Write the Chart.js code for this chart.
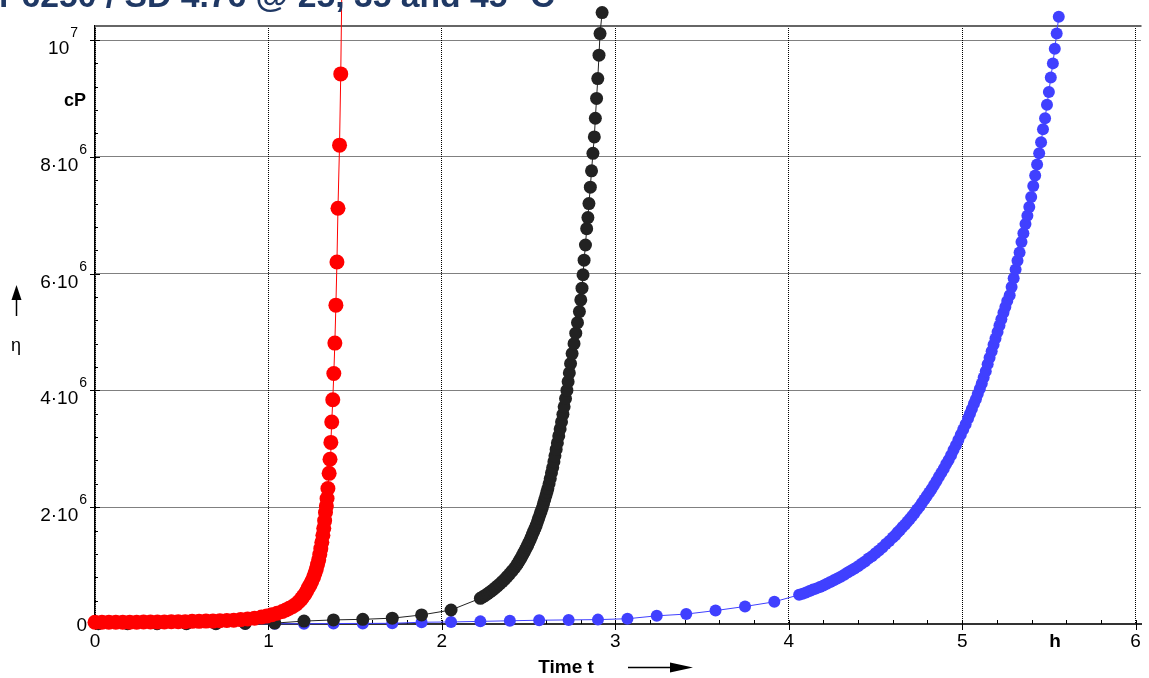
<!DOCTYPE html>
<html>
<head>
<meta charset="utf-8">
<script src="https://cdn.jsdelivr.net/npm/chart.js@4"></script>
<style>
  html, body { margin: 0; padding: 0; background: #fff; }
  #chart { display: block; }
</style>
</head>
<body>
<canvas id="chart" width="1149" height="678"></canvas>
<script>
// time t in h, viscosity eta in 10^6 cP

// 45 °C (red)
const redTime = [0, 0.04, 0.08, 0.12, 0.16, 0.20, 0.24, 0.28, 0.32, 0.36, 0.40, 0.44, 0.48, 0.52, 0.56, 0.60, 0.64, 0.68, 0.72, 0.76, 0.80, 0.84, 0.88, 0.92, 0.96,
    0.99, 1.02, 1.05, 1.08, 1.10, 1.12, 1.14, 1.16, 1.175, 1.19, 1.20, 1.21, 1.22, 1.23, 1.24, 1.25, 1.26,
    1.268, 1.276, 1.283, 1.29, 1.296, 1.302, 1.308, 1.314, 1.319, 1.324, 1.329, 1.334, 1.338,
    1.343, 1.350, 1.355, 1.360, 1.365, 1.371, 1.377, 1.383, 1.389, 1.395, 1.401, 1.410, 1.417, 1.423];
const redEta = [0.03, 0.03, 0.03, 0.03, 0.03, 0.03, 0.03, 0.035, 0.035, 0.035, 0.035, 0.04, 0.04, 0.04, 0.045, 0.045, 0.05, 0.05, 0.055, 0.06, 0.065, 0.075, 0.085, 0.10, 0.12,
    0.135, 0.16, 0.185, 0.215, 0.24, 0.27, 0.30, 0.34, 0.38, 0.43, 0.47, 0.51, 0.56, 0.62, 0.67, 0.73, 0.80,
    0.87, 0.94, 1.02, 1.10, 1.19, 1.29, 1.40, 1.52, 1.64, 1.77, 1.91, 2.02, 2.15,
    2.32, 2.58, 2.82, 3.11, 3.46, 3.84, 4.29, 4.81, 5.46, 6.20, 7.12, 8.20, 9.42, 10.85];

// 35 °C (black)
const blackTime = [0.019, 0.188, 0.358, 0.527, 0.697, 0.866, 1.036, 1.205, 1.375, 1.544, 1.714, 1.883, 2.053,
    2.222, 2.236, 2.250, 2.264, 2.278, 2.292, 2.306, 2.320, 2.334, 2.348, 2.362, 2.376, 2.390, 2.404, 2.418, 2.432,
    2.439, 2.446, 2.453, 2.460, 2.467, 2.474, 2.481, 2.488, 2.495, 2.502, 2.509, 2.516, 2.523, 2.530, 2.537, 2.544,
    2.551, 2.558, 2.565, 2.572, 2.579, 2.586, 2.593, 2.600, 2.606,
    2.611, 2.618, 2.625, 2.632, 2.639, 2.646, 2.652, 2.659, 2.666, 2.674, 2.682, 2.690, 2.698, 2.705, 2.713, 2.721,
    2.728, 2.735, 2.742, 2.751, 2.762, 2.772, 2.782, 2.793,
    2.801, 2.808, 2.814, 2.820, 2.828, 2.835, 2.842, 2.848, 2.856, 2.863, 2.871, 2.879, 2.885, 2.892, 2.899, 2.906, 2.912, 2.924];
const blackEta = [0.005, 0.005, 0.005, 0.005, 0.005, 0.01, 0.015, 0.05, 0.07, 0.08, 0.10, 0.155, 0.24,
    0.44, 0.465, 0.49, 0.52, 0.55, 0.58, 0.615, 0.65, 0.685, 0.725, 0.765, 0.81, 0.855, 0.905, 0.955, 1.01,
    1.045, 1.08, 1.115, 1.15, 1.19, 1.23, 1.27, 1.31, 1.35, 1.40, 1.44, 1.49, 1.54, 1.59, 1.64, 1.69,
    1.75, 1.81, 1.87, 1.93, 1.99, 2.06, 2.13, 2.20, 2.26,
    2.32, 2.40, 2.49, 2.59, 2.68, 2.78, 2.88, 2.99, 3.10, 3.22, 3.34, 3.46, 3.59, 3.72, 3.86, 4.00,
    4.15, 4.30, 4.46, 4.63, 4.80, 4.98, 5.16, 5.35,
    5.55, 5.75, 5.98, 6.23, 6.49, 6.77, 6.96, 7.20, 7.48, 7.76, 8.06, 8.34, 8.66, 9.00, 9.34, 9.74, 10.11, 10.47];

// 25 °C (blue)
const blueTime = [0.019, 0.188, 0.358, 0.527, 0.697, 0.866, 1.036, 1.205, 1.375, 1.544, 1.714, 1.883, 2.053, 2.222, 2.392, 2.561,
    2.731, 2.900, 3.070, 3.239, 3.409, 3.578, 3.748, 3.917,
    4.06, 4.08, 4.10, 4.12, 4.14, 4.16, 4.18, 4.20, 4.22, 4.24, 4.26, 4.28, 4.30, 4.32, 4.34, 4.36, 4.38, 4.40,
    4.42, 4.44, 4.46, 4.48, 4.50, 4.52, 4.54, 4.56, 4.58, 4.60,
    4.614, 4.628, 4.642, 4.656, 4.670, 4.684, 4.698, 4.712, 4.726, 4.740, 4.754, 4.768, 4.782, 4.796, 4.810, 4.824,
    4.838, 4.852, 4.866, 4.880, 4.894, 4.908, 4.922, 4.936, 4.950, 4.964, 4.978, 4.992, 5.006, 5.020, 5.034,
    5.045, 5.056, 5.068, 5.079, 5.090, 5.102, 5.113, 5.124, 5.136, 5.147, 5.158, 5.170, 5.181, 5.192, 5.204, 5.215,
    5.226, 5.238, 5.249, 5.260,
    5.274, 5.285, 5.297, 5.308, 5.319, 5.331, 5.342, 5.353, 5.365, 5.376, 5.387, 5.398, 5.410, 5.421, 5.432, 5.444,
    5.455, 5.466, 5.478, 5.489, 5.500, 5.511, 5.523, 5.534, 5.545, 5.557];
const blueEta = [0.005, 0.005, 0.005, 0.005, 0.005, 0.005, 0.005, 0.005, 0.008, 0.01, 0.012, 0.03, 0.035, 0.045, 0.055, 0.065,
    0.07, 0.075, 0.09, 0.14, 0.17, 0.23, 0.30, 0.38,
    0.50, 0.52, 0.54, 0.565, 0.59, 0.61, 0.635, 0.66, 0.69, 0.72, 0.75, 0.78, 0.81, 0.845, 0.88, 0.915, 0.95, 0.99,
    1.03, 1.07, 1.12, 1.16, 1.21, 1.26, 1.31, 1.37, 1.42, 1.48,
    1.52, 1.57, 1.61, 1.66, 1.70, 1.75, 1.80, 1.85, 1.90, 1.96, 2.01, 2.07, 2.13, 2.19, 2.25, 2.31,
    2.38, 2.45, 2.52, 2.59, 2.66, 2.74, 2.81, 2.89, 2.98, 3.06, 3.15, 3.24, 3.33, 3.42, 3.52,
    3.60, 3.68, 3.77, 3.85, 3.94, 4.03, 4.12, 4.22, 4.33, 4.45, 4.56, 4.67, 4.78, 4.89, 5.00, 5.11,
    5.22, 5.33, 5.43, 5.53,
    5.63, 5.77, 5.92, 6.07, 6.22, 6.36, 6.54, 6.69, 6.85, 6.99, 7.14, 7.31, 7.50, 7.68, 7.87, 8.06,
    8.25, 8.47, 8.66, 8.89, 9.11, 9.36, 9.60, 9.85, 10.11, 10.40];

const xTickValues = [0, 1, 2, 3, 4, 5, 6];
const xTickLabels = ['0', '1', '2', '3', '4', '5', '6'];
const yTickValues = [0, 2, 4, 6, 8, 10];
const yTickBase = ['0', '2·10', '4·10', '6·10', '8·10', '10'];
const yTickExp = ['', '6', '6', '6', '6', '7'];

const titleText = 'r 6250 / SD 4.76 @ 25, 35 and 45 °C';

const FONT = '"Liberation Sans", Arial, sans-serif';
const toPoints = (t, v) => t.map((x, i) => ({ x: x, y: v[i] }));

const overlay = {
    id: 'overlay',
    beforeDatasetsDraw(chart) {
        const ctx = chart.ctx, area = chart.chartArea,
            xs = chart.scales.x, ys = chart.scales.y;
        const line = (x1, y1, x2, y2) => {
            ctx.beginPath(); ctx.moveTo(x1, y1); ctx.lineTo(x2, y2); ctx.stroke();
        };
        const px = v => Math.round(xs.getPixelForValue(v)) + 0.5;
        const py = v => Math.round(ys.getPixelForValue(v)) + 0.5;
        ctx.save();

        // frame top
        ctx.strokeStyle = '#666';
        ctx.lineWidth = 2;
        line(area.left, area.top, area.right, area.top);

        // minor + major ticks
        ctx.strokeStyle = '#000';
        ctx.lineWidth = 1;
        for (let v = 0.2; v < 6.03; v += 0.2) line(px(v), area.bottom, px(v), area.bottom - 4);
        for (let v = 0.4; v < 10.2; v += 0.4) line(area.left, py(v), area.left + 3, py(v));
        xTickValues.forEach(v => line(px(v), area.bottom - 4, px(v), area.bottom + 6));
        yTickValues.forEach(v => line(area.left - 5, py(v), area.left + 5, py(v)));

        // tick labels
        ctx.fillStyle = '#000';
        ctx.textBaseline = 'alphabetic';
        ctx.textAlign = 'center';
        ctx.font = '19px ' + FONT;
        xTickValues.forEach((v, i) => ctx.fillText(xTickLabels[i], xs.getPixelForValue(v), 647));

        ctx.textAlign = 'right';
        yTickValues.forEach((v, i) => {
            const y = ys.getPixelForValue(v);
            const right = i === yTickValues.length - 1 ? 78 : 87;
            if (!yTickExp[i]) {
                ctx.font = '19px ' + FONT;
                ctx.fillText(yTickBase[i], right, y + 7);
                return;
            }
            ctx.font = '14px ' + FONT;
            const ew = ctx.measureText(yTickExp[i]).width;
            ctx.fillText(yTickExp[i], right, y - 3);
            ctx.font = '19px ' + FONT;
            ctx.fillText(yTickBase[i], right - ew - 1, y + 14);
        });
        ctx.restore();
    },
    afterDatasetsDraw(chart) {
        // points that sit above the frame are skipped by Chart.js; draw them too
        const ctx = chart.ctx, area = chart.chartArea;
        const wide = { left: -1000, top: -1000, right: 3000, bottom: 3000 };
        const metas = chart.getSortedVisibleDatasetMetas();
        for (let i = metas.length - 1; i >= 0; i--) {
            metas[i].data.forEach(el => {
                if (el.y < area.top - 5) el.draw(ctx, wide);
            });
        }
    },
    afterDraw(chart) {
        const ctx = chart.ctx;
        ctx.save();
        ctx.fillStyle = '#000';
        ctx.strokeStyle = '#000';
        ctx.textAlign = 'center';
        ctx.textBaseline = 'alphabetic';

        ctx.font = 'bold 18px ' + FONT;
        ctx.fillText('cP', 75, 106);
        ctx.font = 'bold 19px ' + FONT;
        ctx.fillText('h', 1055, 647);
        ctx.fillText('Time t', 566, 673);
        ctx.font = '18px ' + FONT;
        ctx.fillText('η', 16, 351);

        // arrows
        ctx.lineWidth = 1.5;
        ctx.beginPath(); ctx.moveTo(16.5, 316); ctx.lineTo(16.5, 298); ctx.stroke();
        ctx.beginPath(); ctx.moveTo(11.5, 300); ctx.lineTo(21.5, 300); ctx.lineTo(16.5, 285); ctx.closePath(); ctx.fill();
        ctx.beginPath(); ctx.moveTo(628, 667.5); ctx.lineTo(672, 667.5); ctx.stroke();
        ctx.beginPath(); ctx.moveTo(670, 662.5); ctx.lineTo(670, 672.5); ctx.lineTo(693, 667.5); ctx.closePath(); ctx.fill();

        // title (cut off at top edge), sized to the visible width
        ctx.textAlign = 'left';
        ctx.fillStyle = '#1f3864';
        ctx.font = 'bold 22px ' + FONT;
        const size = Math.min(34, 22 * 556 / ctx.measureText(titleText).width);
        ctx.font = 'bold ' + size.toFixed(1) + 'px ' + FONT;
        ctx.fillText(titleText, -1, 7);
        ctx.restore();
    }
};

const series = (label, t, v, color, r) => ({
    label: label,
    data: toPoints(t, v),
    borderColor: color,
    backgroundColor: color,
    borderWidth: 1,
    pointRadius: r,
    pointBorderWidth: 0,
    pointBackgroundColor: color,
    clip: false
});

new Chart(document.getElementById('chart'), {
    type: 'line',
    data: {
        datasets: [
            series('45 °C', redTime, redEta, '#ff0000', 7.5),
            series('35 °C', blackTime, blackEta, '#222222', 6.5),
            series('25 °C', blueTime, blueEta, '#4040ff', 6)
        ]
    },
    options: {
        responsive: false,
        animation: false,
        devicePixelRatio: 1,
        layout: { padding: { left: 0, right: 0, top: 26, bottom: 0 } },
        plugins: { legend: { display: false }, tooltip: { enabled: false } },
        scales: {
            x: {
                type: 'linear',
                min: 0,
                max: 6.034,
                afterFit: s => { s.height = 54; },
                ticks: { display: false, stepSize: 1, includeBounds: false },
                grid: { color: '#000', lineWidth: 1, drawTicks: false },
                border: { display: true, color: '#333', width: 2, dash: [1, 1] }
            },
            y: {
                type: 'linear',
                min: 0,
                max: 10.24,
                afterFit: s => { s.width = 95; },
                ticks: { display: false, stepSize: 2, includeBounds: false },
                grid: { color: '#000', lineWidth: 1, drawTicks: false },
                border: { display: true, color: '#000', width: 1.5, dash: [1, 1] }
            }
        }
    },
    plugins: [overlay]
});
</script>
</body>
</html>
